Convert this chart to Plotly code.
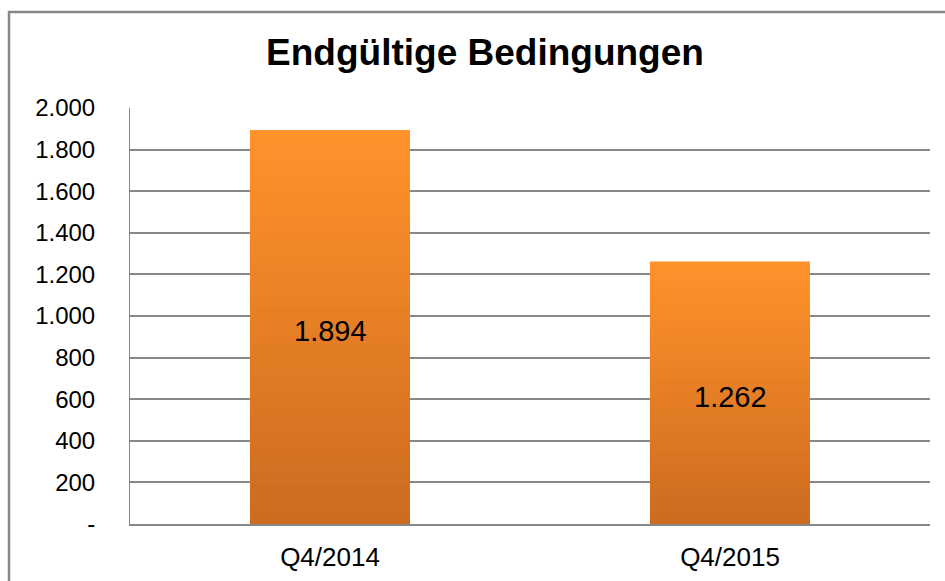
import plotly.graph_objects as go

# ---- data ----
categories = ["Q4/2014", "Q4/2015"]
values = [1894, 1262]
ytick_vals = [0, 200, 400, 600, 800, 1000, 1200, 1400, 1600, 1800, 2000]
ytick_text = ["-", "200", "400", "600", "800", "1.000", "1.200", "1.400", "1.600", "1.800", "2.000"]
title_text = "Endgültige Bedingungen"


def de_fmt(v):
    return f"{v:,.0f}".replace(",", ".")


bar_labels = [de_fmt(v) for v in values]

# ---- style ----
FONT = "Liberation Sans, Arial, sans-serif"
GRID = "#878787"
TOP = (255, 147, 43)
BOTTOM = (204, 106, 31)
N = 40

fig = go.Figure()

# main bars + gradient shading overlays (each relative to its own bar height)
for k in range(N):
    f_hi = 1 - k / N
    f_lo = 1 - (k + 1) / N
    t = (f_hi + f_lo) / 2
    col = tuple(round(BOTTOM[i] + (TOP[i] - BOTTOM[i]) * t) for i in range(3))
    fig.add_trace(go.Bar(
        x=categories,
        y=[v * f_hi for v in values],
        marker=dict(color=f"rgb{col}", line=dict(width=0)),
        hoverinfo="skip" if k else "x+y",
        showlegend=False,
    ))

L, R, T, B = 130, 15, 107.5, 57
W, H = 945, 581
pw, ph = W - L - R, H - T - B


def px_to_paper_x(px):
    return (px - L) / pw


def px_to_paper_y(py):
    return (H - B - py) / ph


# value labels in the middle of each bar
annotations = [
    dict(x=c, y=v / 2, xref="x", yref="y", text=lbl, showarrow=False,
         xanchor="center", yanchor="middle", yshift=-4,
         font=dict(family=FONT, size=29, color="#000000"))
    for c, v, lbl in zip(categories, values, bar_labels)
]

fig.update_layout(
    width=W, height=H,
    margin=dict(l=L, r=R, t=T, b=B, pad=0),
    paper_bgcolor="white",
    plot_bgcolor="white",
    barmode="overlay",
    bargap=0.6,
    title=dict(
        text=f"<b>{title_text}</b>",
        font=dict(family=FONT, size=37, color="#000000"),
        x=485 / W, xanchor="center",
        y=1 - 52 / H, yanchor="middle",
    ),
    xaxis=dict(
        showline=True, linecolor=GRID, linewidth=2,
        showgrid=False, ticks="",
        tickfont=dict(family=FONT, size=26, color="#000000"),
        ticklabelstandoff=9,
        automargin=False,
        fixedrange=True,
    ),
    yaxis=dict(
        range=[0, 2000],
        tickvals=ytick_vals, ticktext=ytick_text,
        showgrid=True, gridcolor=GRID, gridwidth=1.7,
        zeroline=False,
        showline=True, linecolor=GRID, linewidth=1,
        ticks="",
        tickfont=dict(family=FONT, size=24, color="#000000"),
        ticklabelstandoff=29,
        automargin=False,
        fixedrange=True,
    ),
    annotations=annotations,
    shapes=[dict(
        type="rect", xref="paper", yref="paper",
        x0=px_to_paper_x(9), x1=px_to_paper_x(980),
        y0=px_to_paper_y(620), y1=px_to_paper_y(11.5),
        line=dict(color=GRID, width=2.5),
        fillcolor="rgba(0,0,0,0)",
        layer="below",
    )],
)

fig.write_html(
    "out.html",
    config={"displayModeBar": False},
    post_script="document.body.style.margin='0px';document.body.style.overflow='hidden';",
)
